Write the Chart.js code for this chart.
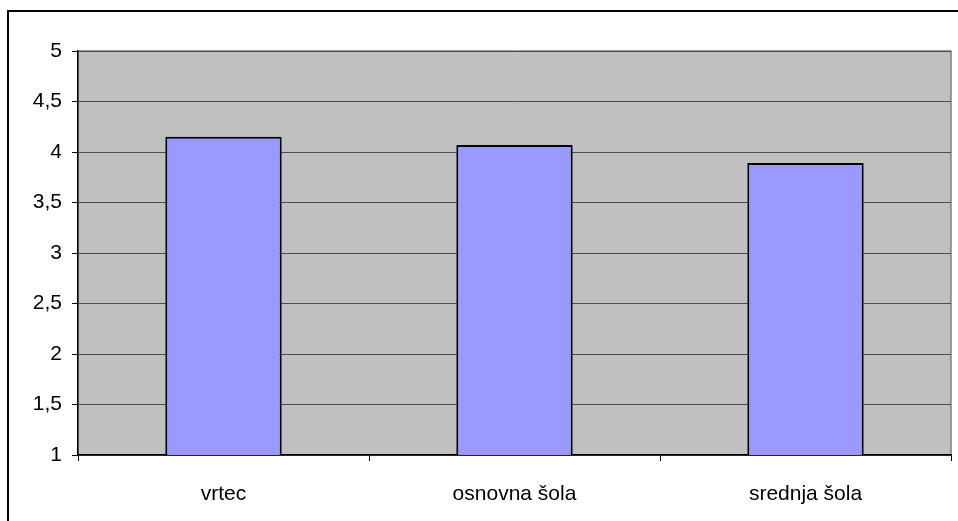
<!DOCTYPE html>
<html>
<head>
<meta charset="utf-8">
<script src="https://cdn.jsdelivr.net/npm/chart.js@4"></script>
<style>
  html, body { margin: 0; padding: 0; background: #fff; }
  #wrap { width: 958px; height: 521px; position: relative; }
</style>
</head>
<body>
<div id="wrap"><canvas id="barChart" width="958" height="521"></canvas></div>
<script>
const categories = ['vrtec', 'osnovna šola', 'srednja šola'];
const values = [4.15, 4.07, 3.89];
const yTickValues = [1, 1.5, 2, 2.5, 3, 3.5, 4, 4.5, 5];
const yTickLabels = ['1', '1,5', '2', '2,5', '3', '3,5', '4', '4,5', '5'];

const labelFont = { family: "'Liberation Sans', Arial, sans-serif", size: 21 };

// grey plot background plus the outer frame of the chart object
const frame = {
    id: 'frame',
    beforeDraw(chart) {
        const c = chart.ctx, a = chart.chartArea;
        c.save();
        c.fillStyle = '#C0C0C0';
        c.fillRect(a.left, a.top, a.right - a.left, a.bottom - a.top);
        c.strokeStyle = '#808080';
        c.lineWidth = 1.5;
        c.strokeRect(a.left, a.top, a.right - a.left, a.bottom - a.top);
        c.strokeStyle = '#000';
        c.lineWidth = 2;
        c.beginPath();
        c.moveTo(8, 521);
        c.lineTo(8, 11);
        c.lineTo(958, 11);
        c.stroke();
        c.restore();
    }
};

new Chart(document.getElementById('barChart'), {
    type: 'bar',
    data: {
        labels: categories,
        datasets: [{
            data: values,
            backgroundColor: '#9999FF',
            borderColor: '#000',
            borderWidth: 2,
            barPercentage: 0.4,
            categoryPercentage: 1
        }]
    },
    options: {
        responsive: false,
        animation: false,
        layout: { padding: { left: 0, top: 51, right: 7, bottom: 0 } },
        plugins: { legend: { display: false }, tooltip: { enabled: false } },
        scales: {
            x: {
                afterFit(s) { s.height = 66; },
                grid: { drawOnChartArea: false, offset: true, tickLength: 6, tickColor: '#000' },
                border: { color: '#000', width: 1.5 },
                ticks: { color: '#000', padding: 21, font: labelFont }
            },
            y: {
                min: 1, max: 5,
                afterFit(s) { s.width = 78; },
                afterBuildTicks(s) { s.ticks = yTickValues.map(v => ({ value: v })); },
                grid: { color: '#4d4d4d', lineWidth: 1, tickLength: 6, tickColor: '#000' },
                border: { color: '#000', width: 1.5 },
                ticks: {
                    color: '#000', padding: 10, font: labelFont,
                    callback: (v) => yTickLabels[yTickValues.indexOf(v)]
                }
            }
        }
    },
    plugins: [frame]
});
</script>
</body>
</html>
